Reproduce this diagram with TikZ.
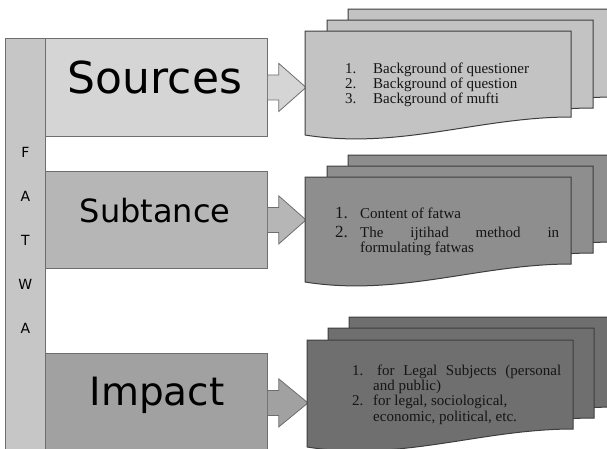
\documentclass[tikz,border=0pt]{standalone}
\usepackage{fontspec}
\setmainfont{Liberation Serif}
\newfontfamily\headfont{DejaVu Sans}
\usetikzlibrary{calc}
\definecolor{barfill}{HTML}{C6C6C6}
\definecolor{srcfill}{HTML}{D5D5D5}
\definecolor{subfill}{HTML}{B6B6B6}
\definecolor{impfill}{HTML}{A1A1A1}
\definecolor{srcdoc}{HTML}{C3C3C3}
\definecolor{subdoc}{HTML}{8E8E8E}
\definecolor{impdoc}{HTML}{6F6F6F}
\definecolor{boxline}{HTML}{6E6E6E}
\definecolor{docline}{HTML}{3E3E3E}
\definecolor{ink}{HTML}{151515}
\newcommand\docshape[4]{% x, y, height, fill
  \draw[docstyle, fill=#4] (#1,#2) -- ({#1+266},#2) -- ({#1+266},{#2+#3})
    .. controls ({#1+174},{#2+#3}) and ({#1+94},{#2+#3+33}) .. (#1,{#2+#3+18}) -- cycle;}
\newcommand\blockarrow[3]{% box, front doc corner, fill
  \filldraw[arrowstyle, fill=#3] let \p1=(#1.east), \p2=(#2) in
    (\x1,\y1+12.5pt) -- (\x1+11pt,\y1+12.5pt) -- (\x1+11pt,\y1+24pt) -- (\x2+1pt,\y1)
    -- (\x1+11pt,\y1-24pt) -- (\x1+11pt,\y1-12.5pt) -- (\x1,\y1-12.5pt);}
\begin{document}
\begin{tikzpicture}[x=1pt,y=-1pt,
  box/.style={draw=boxline, line width=0.8pt, inner sep=0pt, anchor=north west},
  docstyle/.style={draw=docline, line width=1pt},
  arrowstyle/.style={draw=boxline, line width=0.8pt},
  head/.style={anchor=base, inner sep=0pt, text=black},
  letter/.style={anchor=base, inner sep=0pt, text=black, font=\headfont\fontsize{14pt}{14pt}\selectfont},
  item/.style={anchor=base west, inner sep=0pt, text=ink, font=\fontsize{15pt}{15pt}\selectfont}]
\useasboundingbox (0,0) rectangle (607,448);
\begin{scope}
\clip (0,0) rectangle (607,448);
% left bar
\node[box, fill=barfill, minimum width=40pt, minimum height=430pt] (bar) at (5,38) {};
% boxes
\node[box, fill=srcfill, minimum width=222pt, minimum height=98pt] (src) at (45,38) {};
\node[box, fill=subfill, minimum width=222pt, minimum height=97pt] (sub) at (45,171) {};
\node[box, fill=impfill, minimum width=222pt, minimum height=99pt] (imp) at (45,353) {};
% front document corners
\coordinate (srcdocA) at (305,31);
\coordinate (subdocA) at (305,177);
\coordinate (impdocA) at (307,340);
% arrows
\blockarrow{src}{srcdocA}{srcfill}
\blockarrow{sub}{subdocA}{subfill}
\blockarrow{imp}{impdocA}{impfill}
% documents
\docshape{348}{9}{88}{srcdoc}
\docshape{327}{20}{88}{srcdoc}
\docshape{305}{31}{86}{srcdoc}
\docshape{348}{155}{87}{subdoc}
\docshape{327}{166}{87}{subdoc}
\docshape{305}{177}{87}{subdoc}
\docshape{349}{317}{90}{impdoc}
\docshape{328}{328}{90}{impdoc}
\docshape{307}{340}{89}{impdoc}
% headings
\node[head, font=\headfont\fontsize{44pt}{44pt}\selectfont] (srct) at ($(src.north west)+(110,55)$) {Sources};
\node[head, font=\headfont\fontsize{32pt}{32pt}\selectfont] (subt) at ($(sub.north west)+(110,51)$) {Subtance};
\node[head, font=\headfont\fontsize{39pt}{39pt}\selectfont] (impt) at ($(imp.north west)+(112,52)$) {Impact};
% FATWA letters
\node[letter] (l1) at ($(bar.north)+(0,119)$) {F};
\node[letter] (l2) at ($(bar.north)+(0,163)$) {A};
\node[letter] (l3) at ($(bar.north)+(0,207)$) {T};
\node[letter] (l4) at ($(bar.north)+(0,251)$) {W};
\node[letter] (l5) at ($(bar.north)+(0,295)$) {A};
% Sources items
\node[item] (s1n) at (345,73) {1.};
\node[item] (s1) at (373,73) {Background of questioner};
\node[item] (s2n) at (345,88) {2.};
\node[item] (s2) at (373,88) {Background of question};
\node[item] (s3n) at (345,103) {3.};
\node[item] (s3) at (373,103) {Background of mufti};
% Subtance items
\node[item, font=\fontsize{17pt}{17pt}\selectfont] (u1n) at (335,218) {1.};
\node[item] (u1) at (360,218) {Content of fatwa};
\node[item, font=\fontsize{17pt}{17pt}\selectfont] (u2n) at (335,237) {2.};
\node[item] (u2) at (360,237) {\makebox[199pt][s]{The ijtihad method in}};
\node[item] (u3) at (360,252) {formulating fatwas};
% Impact items
\node[item] (i1n) at (352,375) {1.};
\node[item] (i1) at (377,375) {\makebox[184pt][s]{for Legal Subjects (personal}};
\node[item] (i1b) at (373,390) {and public)};
\node[item] (i2n) at (352,405) {2.};
\node[item] (i2) at (373,405) {for legal, sociological,};
\node[item] (i2b) at (373,421) {economic, political, etc.};
\end{scope}
\end{tikzpicture}
\end{document}
